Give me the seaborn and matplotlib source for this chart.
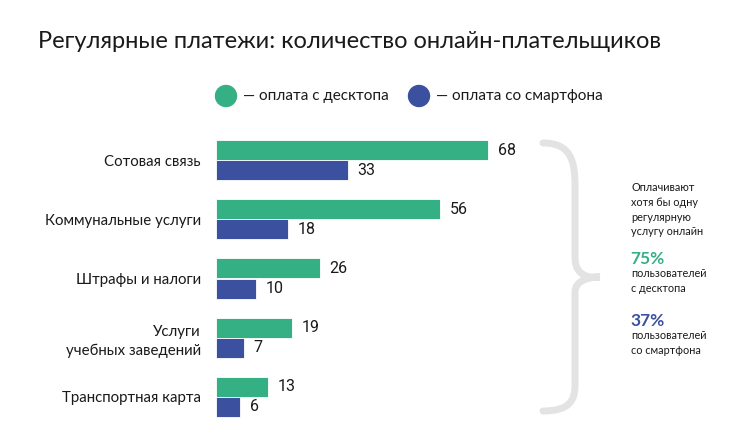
import pandas as pd
import matplotlib.pyplot as plt
import seaborn as sns
from matplotlib.path import Path
from matplotlib.patches import PathPatch, Ellipse

# Data
categories = ['Сотовая связь', 'Коммунальные услуги', 'Штрафы и налоги',
              'Услуги\nучебных заведений', 'Транспортная карта']
desktop = [68, 56, 26, 19, 13]
smartphone = [33, 18, 10, 7, 6]
series_names = ['оплата с десктопа', 'оплата со смартфона']

GREEN = '#35b084'
BLUE = '#3c50a0'
TEXT = '#1a1a1a'

df = pd.DataFrame({
    'cat': categories * 2,
    'val': desktop + smartphone,
    'series': [series_names[0]] * 5 + [series_names[1]] * 5,
})

sns.set_theme(style='white')
plt.rcParams['font.family'] = ['Lato', 'DejaVu Sans']

W, H = 740, 445
fig = plt.figure(figsize=(W / 100, H / 100), dpi=100)


def fx(px):
    return px / W


def fy(py):
    return 1 - py / H


ax = fig.add_axes([fx(216), fy(426.5), 320 / W, 296 / H])
sns.barplot(data=df, x='val', y='cat', hue='series', orient='h',
            palette=[GREEN, BLUE], width=0.68, gap=0, ax=ax, legend=False,
            saturation=1, edgecolor='white', linewidth=0.6)
ax.set_xlim(0, 80)
ax.set_ylim(4.5, -0.5)
ax.set_xlabel('')
ax.set_ylabel('')
ax.set_xticks([])
ax.tick_params(axis='y', length=0, pad=11)
ax.set_yticklabels(categories, fontsize=10.8, color=TEXT, ha='right',
                   linespacing=1.4)
sns.despine(ax=ax, left=True, bottom=True)

for cont in ax.containers:
    ax.bar_label(cont, padding=7, fontsize=11.5, color=TEXT,
                 family=['Roboto', 'DejaVu Sans'])

# Title
fig.text(fx(38), fy(42), 'Регулярные платежи: количество онлайн-плательщиков',
         fontsize=17, color=TEXT, va='center', ha='left')

# Legend
for cx, color in [(226, GREEN), (419, BLUE)]:
    fig.patches.append(Ellipse((fx(cx), fy(96)), 21 / W, 21 / H,
                               transform=fig.transFigure, color=color, figure=fig))
fig.text(fx(243), fy(96), '— ' + series_names[0], fontsize=11, color=TEXT,
         va='center', ha='left')
fig.text(fx(436), fy(96), '— ' + series_names[1], fontsize=11, color=TEXT,
         va='center', ha='left')

# Brace
pts = [(543, 143), (570, 143), (575, 160), (575, 185),
       (575, 245), (575, 255), (575, 262), (575, 274), (590, 277), (600, 277),
       (590, 277), (575, 280), (575, 292), (575, 299), (575, 309),
       (575, 385), (575, 400), (570, 411), (543, 411)]
codes = [Path.MOVETO, Path.CURVE4, Path.CURVE4, Path.CURVE4,
         Path.LINETO, Path.LINETO, Path.CURVE4, Path.CURVE4, Path.CURVE4, Path.LINETO,
         Path.CURVE4, Path.CURVE4, Path.CURVE4, Path.LINETO, Path.LINETO,
         Path.LINETO, Path.CURVE4, Path.CURVE4, Path.CURVE4]
brace = Path([(fx(x), fy(y)) for x, y in pts], codes)
fig.patches.append(PathPatch(brace, transform=fig.transFigure, fill=False,
                             edgecolor='#e3e3e3', lw=5, capstyle='round',
                             figure=fig))

# Side annotation
fig.text(fx(631), fy(182), 'Оплачивают\nхотя бы одну\nрегулярную\nуслугу онлайн',
         fontsize=7.8, color=TEXT, va='top', ha='left', linespacing=1.42)
fig.text(fx(630), fy(259), '75%', fontsize=12.5, color=GREEN, weight='bold',
         va='center', ha='left')
fig.text(fx(631), fy(268), 'пользователей\nс десктопа',
         fontsize=7.8, color=TEXT, va='top', ha='left', linespacing=1.42)
fig.text(fx(630), fy(321), '37%', fontsize=12.5, color=BLUE, weight='bold',
         va='center', ha='left')
fig.text(fx(631), fy(330), 'пользователей\nсо смартфона',
         fontsize=7.8, color=TEXT, va='top', ha='left', linespacing=1.42)

fig.savefig('out.png', dpi=100, facecolor='white')
